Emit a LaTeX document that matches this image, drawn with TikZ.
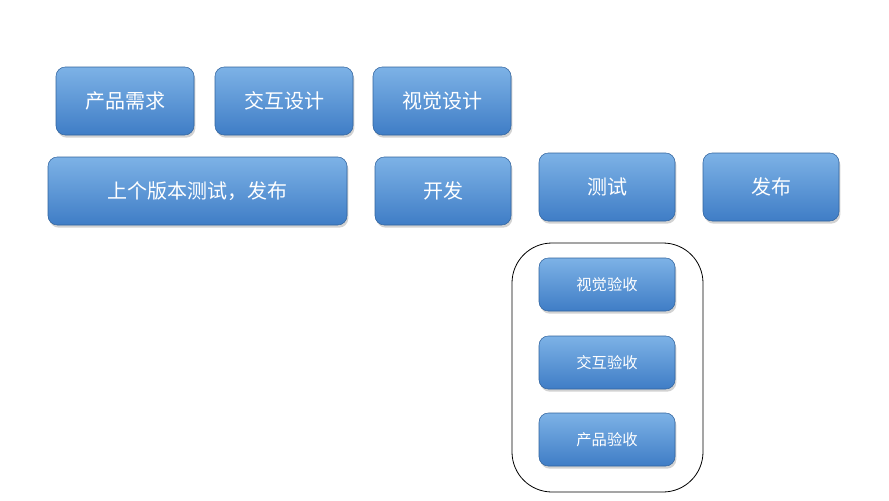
\documentclass[tikz,border=0pt]{standalone}
\usepackage{fontspec}
\newfontfamily\cjk{Noto Sans CJK SC}
\usetikzlibrary{shadows}
\definecolor{btop}{HTML}{7DB2E6}
\definecolor{bbot}{HTML}{3F7DC6}
\tikzset{
 box/.style={rounded corners=7pt, top color=btop, bottom color=bbot, draw=bbot!80!black, line width=0.4pt,
   drop shadow={shadow xshift=1pt, shadow yshift=-2pt, opacity=0.35},
   text=white, font=\cjk\fontsize{15}{15}\selectfont, inner sep=0pt},
 small/.style={box, font=\cjk\fontsize{11.5}{12}\selectfont}
}
\begin{document}
\begin{tikzpicture}[x=0.75pt,y=-0.75pt]
\useasboundingbox[fill=white] (0,0) rectangle (889,500);
\newcommand\bx[7][box]{\node[#1, minimum width=#4*0.75pt, minimum height=#5*0.75pt] (#2) at (#6,#7) {#3};}
\bx{a}{产品需求}{138}{68}{125}{101}
\bx{b}{交互设计}{138}{68}{284}{101}
\bx{c}{视觉设计}{138}{68}{442}{101}
\bx{d}{上个版本测试，发布}{299}{68}{197.5}{191}
\bx{e}{开发}{136}{68}{443}{191}
\bx{f}{测试}{136}{68}{607}{187}
\bx{g}{发布}{136}{68}{771}{187}
\node[draw=black, line width=0.6pt, rounded corners=30pt, minimum width=191*0.75pt, minimum height=249*0.75pt] (box) at (607.5,367.5) {};
\bx[small]{h}{视觉验收}{136}{53}{607}{284.5}
\bx[small]{i}{交互验收}{136}{53}{607}{362.5}
\bx[small]{j}{产品验收}{136}{53}{607}{439.5}
\end{tikzpicture}
\end{document}
